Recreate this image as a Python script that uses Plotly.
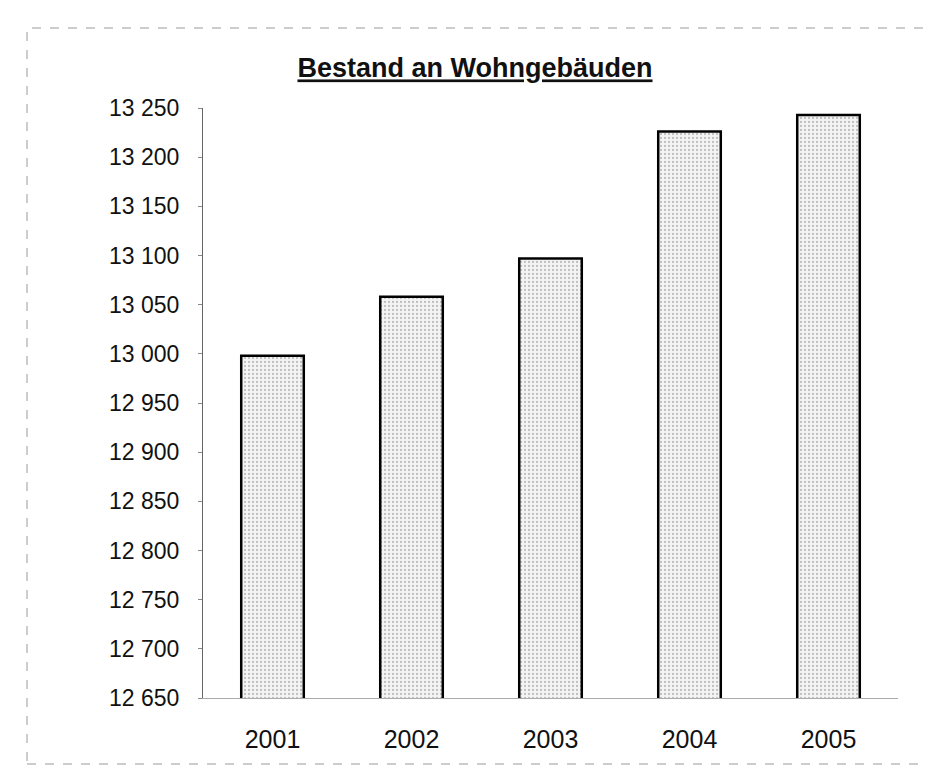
import plotly.graph_objects as go

years = ['2001', '2002', '2003', '2004', '2005']
gebaeude = [12998, 13058, 13097, 13226, 13243]
y_ticks = list(range(12650, 13251, 50))

fig = go.Figure()
fig.add_trace(go.Bar(
    x=years, y=gebaeude,
    marker=dict(color='white',
                line=dict(color='black', width=2.5),
                pattern=dict(shape='.', fgcolor='#8a8a8a', bgcolor='#f4f4f4',
                             size=4, solidity=0.25)),
))

fig.update_layout(
    width=933, height=778,
    paper_bgcolor='white', plot_bgcolor='white',
    margin=dict(l=195, r=43, t=100, b=88),
    bargap=0.55,
    showlegend=False,
    separators=', ',
    font=dict(family='Liberation Sans, Arial, sans-serif', size=22, color='#111'),
    title=dict(text='<b><u>Bestand an Wohngebäuden</u></b>',
               x=467 / 933, xanchor='center', y=1 - 60 / 778, yanchor='middle',
               font=dict(size=27, color='#111')),
)
fig.update_yaxes(
    range=[12650, 13250], tickvals=y_ticks, tickformat=',d',
    showgrid=False, zeroline=False,
    showline=True, linecolor='#666', linewidth=1,
    ticks='outside', ticklen=4, tickcolor='#888',
    tickfont=dict(size=23),
    ticklabelstandoff=14,
)
fig.update_xaxes(
    showgrid=False, showline=True, linecolor='#aaa', linewidth=1,
    ticks='', ticklabelstandoff=19,
    tickfont=dict(size=25),
)

# dashed frame of the chart object
fig.add_shape(type='rect', xref='paper', yref='paper',
              x0=-176 / 695, x1=1 + 28 / 695, y0=-66 / 590, y1=1 + 80 / 590,
              line=dict(color='#9a9a9a', width=1, dash='dash'))

fig.write_html('out.html')
